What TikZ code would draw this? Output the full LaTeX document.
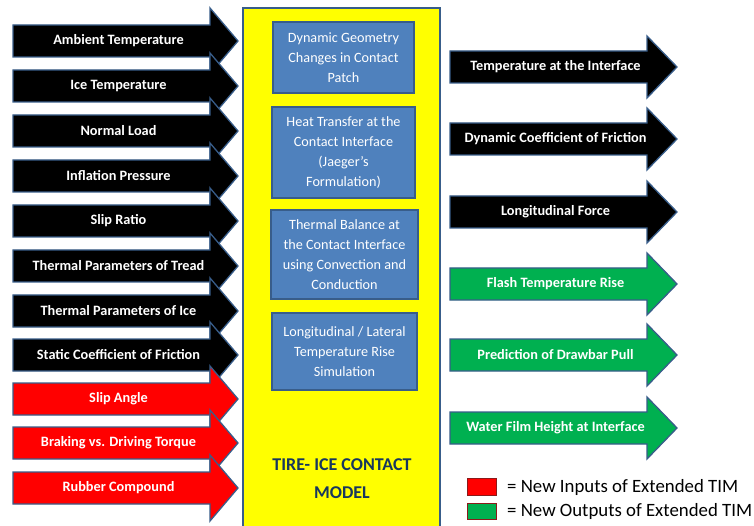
\documentclass[tikz,border=0pt]{standalone}
\usepackage{fontspec}
\setmainfont{Carlito}
\definecolor{edgeblue}{HTML}{385D8A}
\definecolor{boxblue}{HTML}{4F81BD}
\definecolor{modelyellow}{HTML}{FFFF00}
\definecolor{newred}{HTML}{FF0000}
\definecolor{newgreen}{HTML}{00B050}
\definecolor{titlenavy}{HTML}{17375E}
\definecolor{legendedge}{HTML}{8B1A1A}
\tikzset{
  blackarrow/.style={fill=black, draw=edgeblue, line width=1.3pt, line join=miter},
  redarrow/.style={fill=newred, draw=edgeblue, line width=1.3pt, line join=miter},
  greenarrow/.style={fill=newgreen, draw=edgeblue, line width=1.3pt, line join=miter},
  arrowtext/.style={text=white, font=\fontsize{14.3}{16}\selectfont\bfseries, inner sep=0pt},
  stagebox/.style={fill=boxblue, draw=edgeblue, line width=1.3pt, text=white,
    align=center, inner sep=0pt, font=\fontsize{14.2}{20}\selectfont},
  modelbox/.style={fill=modelyellow, draw=edgeblue, line width=1.3pt},
  titletext/.style={text=titlenavy, align=center, inner sep=0pt,
    font=\fontsize{18}{28}\selectfont\bfseries},
  legendkey/.style={draw=legendedge, line width=0.8pt},
  legendtext/.style={anchor=west, inner sep=0pt, font=\fontsize{18.8}{20}\selectfont},
}
% #1 name, #2 style, #3 tail x, #4 head base x, #5 tip x, #6 centre y, #7 head half-height, #8 label
\newcommand\tagarrow[8]{%
  \path[#2] (#3,#6-16) -- (#4,#6-16) -- (#4,#6-#7) -- (#5,#6) -- (#4,#6+#7)
    -- (#4,#6+16) -- (#3,#6+16) -- cycle;
  \node[arrowtext] (#1) at ({(#3+#4)/2+7}, #6) {#8};
}
\begin{document}
\begin{tikzpicture}[x=1pt, y=-1pt]
\useasboundingbox (0,0) rectangle (754,526);
\fill[white] (0,0) rectangle (754,526);
\clip (0,0) rectangle (754,526);

% inputs
\tagarrow{inA}{blackarrow}{13}{210}{238}{41}{33}{Ambient Temperature}
\tagarrow{inB}{blackarrow}{13}{210}{238}{86}{33}{Ice Temperature}
\tagarrow{inC}{blackarrow}{13}{210}{238}{131}{33}{Normal Load}
\tagarrow{inD}{blackarrow}{13}{210}{238}{176}{33}{Inflation Pressure}
\tagarrow{inE}{blackarrow}{13}{210}{238}{221}{33}{Slip Ratio}
\tagarrow{inF}{blackarrow}{13}{210}{238}{266}{33}{Thermal Parameters of Tread}
\tagarrow{inG}{blackarrow}{13}{210}{238}{311}{33}{Thermal Parameters of Ice}
\tagarrow{inH}{blackarrow}{13}{210}{238}{355}{33}{Static Coefficient of Friction}
\tagarrow{inI}{redarrow}{13}{210}{238}{399}{33}{Slip Angle}
\tagarrow{inJ}{redarrow}{13}{210}{238}{443}{33}{Braking vs. Driving Torque}
\tagarrow{inK}{redarrow}{13}{210}{238}{488}{33}{Rubber Compound}

% model column
\path[modelbox] (243,8) rectangle (440,540);
\node[stagebox, minimum width=141pt, minimum height=71pt] (stage1) at (343.5,57.5)
  {Dynamic Geometry\\Changes in Contact\\Patch};
\node[stagebox, minimum width=143pt, minimum height=91pt] (stage2) at (343.5,152.5)
  {Heat Transfer at the\\Contact Interface\\(Jaeger’s\\Formulation)};
\node[stagebox, minimum width=147pt, minimum height=89pt] (stage3) at (344.5,254.5)
  {Thermal Balance at\\the Contact Interface\\using Convection and\\Conduction};
\node[stagebox, minimum width=145pt, minimum height=77pt] (stage4) at (344.5,351.5)
  {Longitudinal / Lateral\\Temperature Rise\\Simulation};
\node[titletext] (title) at (342,479) {TIRE- ICE CONTACT\\MODEL};

% outputs
\tagarrow{outA}{blackarrow}{450}{647}{677}{67}{31}{Temperature at the Interface}
\tagarrow{outB}{blackarrow}{450}{647}{677}{139}{31}{Dynamic Coefficient of Friction}
\tagarrow{outC}{blackarrow}{450}{647}{677}{212}{31}{Longitudinal Force}
\tagarrow{outD}{greenarrow}{450}{647}{677}{284}{31}{Flash Temperature Rise}
\tagarrow{outE}{greenarrow}{450}{647}{677}{355}{31}{Prediction of Drawbar Pull}
\tagarrow{outF}{greenarrow}{450}{647}{677}{428}{31}{Water Film Height at Interface}

% legend
\path[legendkey, fill=newred] (467,478) rectangle (496,495);
\path[legendkey, fill=newgreen] (467,503) rectangle (496,519);
\node[legendtext] (legendin) at (507,487) {= New Inputs of Extended TIM};
\node[legendtext] (legendout) at (507,511.5) {= New Outputs of Extended TIM};
\end{tikzpicture}
\end{document}
